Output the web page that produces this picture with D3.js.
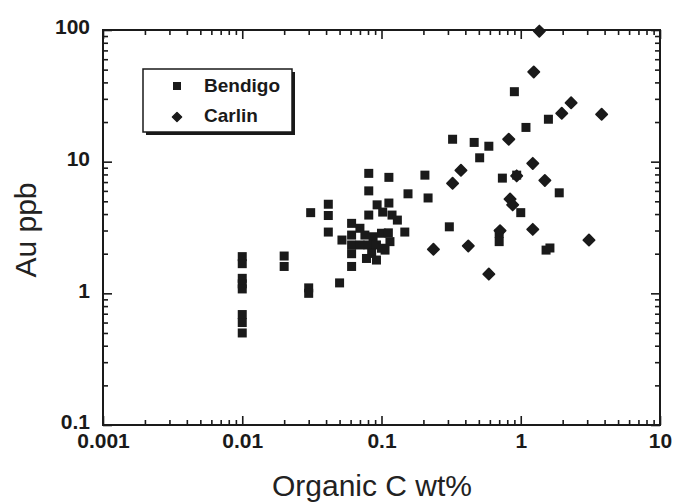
<!DOCTYPE html>
<html>
<head>
<meta charset="utf-8">
<script src="https://cdn.jsdelivr.net/npm/d3@7"></script>
<style>
  body { margin: 0; background: #fff; }
  .tick text { font-family: "Liberation Sans", Arial, sans-serif; font-weight: bold; font-size: 21px; fill: #1a1a1a; }
  .tick line { stroke: #1a1a1a; stroke-width: 1.6; }
</style>
</head>
<body>
<div id="chart-area"></div>
<script>
// Au vs organic carbon, log-log

// Bendigo: organic C wt%
var bendigoC = [
  0.01, 0.01, 0.01, 0.01, 0.01, 0.01, 0.01, 0.01,
  0.02, 0.02,
  0.031, 0.03, 0.03,
  0.0415, 0.0415, 0.0415,
  0.052, 0.05,
  0.061, 0.061, 0.061, 0.061, 0.061,
  0.070, 0.076, 0.087, 0.10, 0.070, 0.080, 0.092, 0.106, 0.085, 0.078, 0.092,
  0.081, 0.081, 0.081, 0.093, 0.113, 0.102, 0.119, 0.13, 0.147, 0.112, 0.115, 0.10,
  0.113, 0.155, 0.205, 0.216,
  0.307, 0.324, 0.463, 0.507, 0.59,
  0.70, 0.70, 0.738, 0.90, 0.935, 1.0, 1.09, 1.52, 1.62, 1.58, 1.89
];
// Bendigo: Au ppb
var bendigoAu = [
  1.9, 1.68, 1.3, 1.18, 1.08, 0.69, 0.6, 0.5,
  1.92, 1.6,
  4.1, 1.1, 1.0,
  4.75, 3.9, 2.92,
  2.54, 1.2,
  3.4, 2.77, 2.33, 2.0, 1.6,
  3.12, 2.77, 2.69, 2.86, 2.33, 2.33, 2.33, 2.13, 2.01, 1.84, 1.79,
  8.15, 6.0, 3.93, 4.7, 4.85, 4.14, 3.93, 3.6, 2.92, 2.88, 2.47, 2.2,
  7.6, 5.7, 7.9, 5.3,
  3.2, 14.8, 14.0, 10.7, 13.1,
  2.85, 2.47, 7.5, 34, 7.9, 4.1, 18.2, 2.13, 2.21, 21.0, 5.8
];

// Carlin: organic C wt%
var carlinC = [
  1.36, 1.24, 2.30, 1.97, 3.81, 0.82, 0.372, 0.324, 1.22, 1.49,
  0.935, 0.838, 0.875, 0.71, 1.22, 0.236, 0.42, 3.09, 0.59
];
// Carlin: Au ppb
var carlinAu = [
  98, 48, 28, 23.3, 22.9, 14.8, 8.6, 6.85, 9.7, 7.2,
  7.8, 5.2, 4.7, 2.99, 3.06, 2.16, 2.29, 2.54, 1.40
];

var xTicks = [0.001, 0.01, 0.1, 1, 10];
var yTicks = [0.1, 1, 10, 100];
var seriesNames = ["Bendigo", "Carlin"];

var margin = {top: 30, right: 15, bottom: 78, left: 103};
var width = 557;
var height = 395;

var svg = d3.select("#chart-area")
  .append("svg")
  .attr("width", 675)
  .attr("height", 503);

var g = svg.append("g")
  .attr("transform", "translate(" + margin.left + ", " + margin.top + ")");

var x = d3.scaleLog().domain([0.001, 10]).range([0, width]);
var y = d3.scaleLog().domain([0.1, 100]).range([height, 0]);

// minor ticks 2..9 per decade
function minors(lo, hi) {
  var out = [];
  for (var p = lo; p < hi; p *= 10) {
    for (var k = 2; k <= 9; k++) out.push(p * k);
  }
  return out;
}
var xMinor = minors(0.001, 10);
var yMinor = minors(0.1, 100);

// bottom axis
g.append("g")
  .attr("transform", "translate(0, " + height + ")")
  .call(d3.axisBottom(x).tickValues(xMinor).tickSize(-5).tickFormat(""));
g.append("g")
  .attr("transform", "translate(0, " + height + ")")
  .call(d3.axisBottom(x).tickValues(xTicks).tickSize(-9).tickPadding(8)
    .tickFormat((d) => { return String(d); }));

// top axis
g.append("g").call(d3.axisTop(x).tickValues(xMinor).tickSize(-5).tickFormat(""));
g.append("g").call(d3.axisTop(x).tickValues(xTicks).tickSize(-9).tickFormat(""));

// left axis
g.append("g")
  .call(d3.axisLeft(y).tickValues(yMinor).tickSize(-5).tickFormat(""));
g.append("g")
  .call(d3.axisLeft(y).tickValues(yTicks).tickSize(-9).tickPadding(13)
    .tickFormat((d) => { return String(d); }))
  .selectAll("text")
  .attr("dy", "0.18em");

// right axis
g.append("g")
  .attr("transform", "translate(" + width + ", 0)")
  .call(d3.axisRight(y).tickValues(yMinor).tickSize(-5).tickFormat(""));
g.append("g")
  .attr("transform", "translate(" + width + ", 0)")
  .call(d3.axisRight(y).tickValues(yTicks).tickSize(-9).tickFormat(""));

g.selectAll(".domain").remove();

// frame
g.append("rect")
  .attr("width", width)
  .attr("height", height)
  .attr("fill", "none")
  .attr("stroke", "#1a1a1a")
  .attr("stroke-width", 2);

var bendigo = bendigoC.map((c, i) => { return {c: c, au: bendigoAu[i]}; });
var carlin = carlinC.map((c, i) => { return {c: c, au: carlinAu[i]}; });

var sq = 9;
var diamond = "M0,-5.6L5.6,0L0,5.6L-5.6,0Z";

g.selectAll("rect.bendigo").data(bendigo)
  .enter()
  .append("rect")
    .attr("class", "bendigo")
    .attr("x", (d) => { return x(d.c) - sq / 2; })
    .attr("y", (d) => { return y(d.au) - sq / 2; })
    .attr("width", sq)
    .attr("height", sq)
    .attr("fill", "#1a1a1a");

g.selectAll("path.carlin").data(carlin)
  .enter()
  .append("path")
    .attr("class", "carlin")
    .attr("d", diamond)
    .attr("transform", (d) => { return "translate(" + x(d.c) + "," + y(d.au) + ")"; })
    .attr("fill", "#1a1a1a")
    .attr("stroke", "#1a1a1a")
    .attr("stroke-width", 1.8)
    .attr("stroke-linejoin", "round");

// legend
var lg = svg.append("g").attr("transform", "translate(143, 69)");
lg.append("rect")
  .attr("x", 3).attr("y", 3)
  .attr("width", 149).attr("height", 63)
  .attr("fill", "#1a1a1a");
lg.append("rect")
  .attr("width", 149).attr("height", 63)
  .attr("fill", "#fff")
  .attr("stroke", "#1a1a1a")
  .attr("stroke-width", 1.5);
lg.append("rect")
  .attr("x", 34 - 4).attr("y", 17 - 4)
  .attr("width", 8).attr("height", 8)
  .attr("fill", "#1a1a1a");
lg.append("path")
  .attr("d", "M0,-4.6L4.6,0L0,4.6L-4.6,0Z")
  .attr("transform", "translate(34, 48)")
  .attr("fill", "#1a1a1a")
  .attr("stroke", "#1a1a1a")
  .attr("stroke-width", 1.4)
  .attr("stroke-linejoin", "round");
lg.selectAll("text.leg").data(seriesNames)
  .enter()
  .append("text")
    .attr("class", "leg")
    .attr("x", 61)
    .attr("y", (d, i) => { return 23 + i * 30; })
    .attr("font-family", "Liberation Sans, Arial, sans-serif")
    .attr("font-weight", "bold")
    .attr("font-size", "19px")
    .attr("fill", "#1a1a1a")
    .text((d) => { return d; });

// x axis label
svg.append("text")
  .attr("x", 372)
  .attr("y", 496)
  .attr("font-family", "Liberation Sans, Arial, sans-serif")
  .attr("font-size", "30px")
  .attr("text-anchor", "middle")
  .attr("fill", "#222")
  .text("Organic C wt%");

// y axis label
svg.append("text")
  .attr("transform", "rotate(-90)")
  .attr("x", -230)
  .attr("y", 36)
  .attr("font-family", "Liberation Sans, Arial, sans-serif")
  .attr("font-size", "30px")
  .attr("text-anchor", "middle")
  .attr("fill", "#222")
  .text("Au ppb");
</script>
</body>
</html>
